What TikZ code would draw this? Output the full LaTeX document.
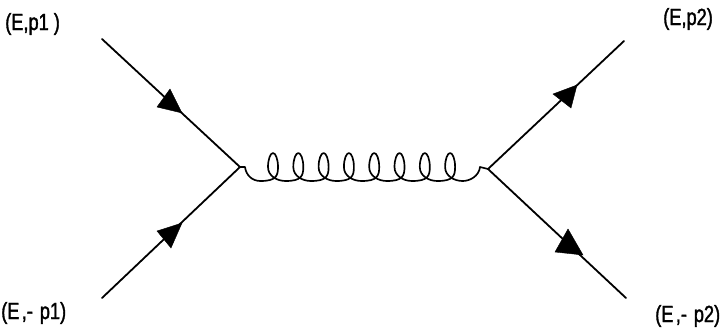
\documentclass[tikz,border=0pt]{standalone}
\usepackage{fontspec}
\newfontfamily\labfont[FakeBold=1.5,FakeStretch=0.78]{Liberation Sans}
\begin{document}
\begin{tikzpicture}[x=0.75pt,y=-0.75pt,
  fermion/.style={line width=1.35pt,line cap=round},
  gluon/.style={line width=1.25pt,line join=round},
  tip/.style={fill=black,draw=black,line width=0.3pt,line join=miter},
  lab/.style={inner sep=0pt,font=\labfont\fontsize{17.5}{17.5}\selectfont,text=black,anchor=base west}]
\useasboundingbox (0,0) rectangle (723,333);
\coordinate (tl) at (102,39);
\coordinate (bl) at (102,298);
\coordinate (tr) at (624,41);
\coordinate (br) at (626,298);
\coordinate (vl) at (240,167);
\coordinate (vr) at (488,169);
\draw[fermion] (tl) -- (vl);
\draw[fermion] (bl) -- (vl);
\draw[fermion] (vr) -- (tr);
\draw[fermion] (vr) -- (br);
\fill[tip] (170,89) -- (157,107) -- (182,113) -- cycle;
\fill[tip] (157,231) -- (182,223) -- (171,248) -- cycle;
\fill[tip] (553,94) -- (577,85) -- (571,108) -- cycle;
\fill[tip] (568,229) -- (555,252) -- (583,255) -- cycle;
\draw[gluon] (vl) -- (245,167) .. controls (246,175) and (252,181) .. (260.4,181)
  \foreach \c in {273,298.3,323.6,348.9,374.2,399.5,424.8,450.1} {
    .. controls (\c+3,181) and (\c+5,176) .. (\c+5,167)
    .. controls (\c+5,159) and (\c+2.5,153) .. (\c,153)
    .. controls (\c-2.5,153) and (\c-5,159) .. (\c-5,167)
    .. controls (\c-5,176) and (\c+4,181) .. (\c+12.65,181)
  }
  .. controls (470,181) and (479,176) .. (480,167) -- (vr);
\node[lab] (a) at (5,30) {(E,p1 )};
\node[lab] (b) at (1,319) {(E\kern0.1em,-\kern0.08em\ p1)};
\node[lab] (c) at (663,25) {(E,p2)};
\node[lab] (d) at (655,322) {(E\kern0.1em,-\kern0.08em\ p2)};
\end{tikzpicture}
\end{document}
